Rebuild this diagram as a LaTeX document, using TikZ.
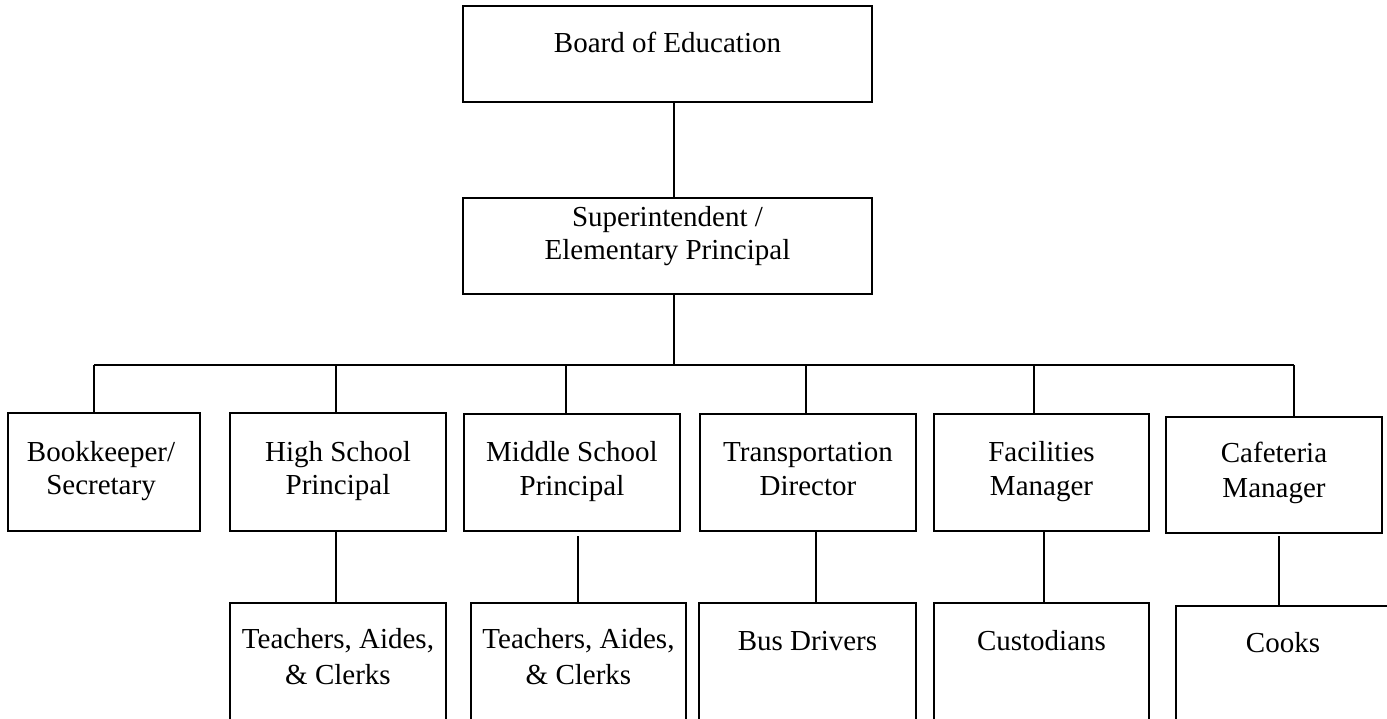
\documentclass[tikz,border=0pt]{standalone}
\usepackage{fontspec}
\setmainfont{Liberation Serif}
\begin{document}
\begin{tikzpicture}[x=1pt,y=-1pt,
  box/.style={draw=black,line width=1.3pt,rectangle,inner sep=0pt,minimum width=#1},
  lbl/.style={anchor=base,align=center,inner sep=0pt,font=\fontsize{29}{34}\selectfont},
  conn/.style={draw=black,line width=1.3pt}]
\useasboundingbox (0,0) rectangle (1387,719);
\clip (0,0) rectangle (1387,719);
% top level boxes
\node[box=409pt,minimum height=96pt] (board) at (667.5,54) {};
\node[box=409pt,minimum height=96pt] (super) at (667.5,246) {};
% second row
\node[box=192pt,minimum height=118pt] (book) at (104,472) {};
\node[box=216pt,minimum height=118pt] (high) at (338,472) {};
\node[box=216pt,minimum height=117pt] (middle) at (572,472.5) {};
\node[box=216pt,minimum height=117pt] (trans) at (808,472.5) {};
\node[box=215pt,minimum height=117pt] (fac) at (1041.5,472.5) {};
\node[box=216pt,minimum height=116pt] (caf) at (1274,475) {};
% third row
\node[box=216pt,minimum height=157pt] (teachA) at (338,681.5) {};
\node[box=215pt,minimum height=157pt] (teachB) at (578.5,681.5) {};
\node[box=217pt,minimum height=157pt] (busd) at (807.5,681.5) {};
\node[box=215pt,minimum height=157pt] (cust) at (1041.5,681.5) {};
\node[box=214pt,minimum height=154pt] (cooks) at (1283,683) {};
% labels (base anchor = baseline of the last line)
\node[lbl] (tboard) at (667.5,53) {Board of Education};
\node[lbl,font=\fontsize{29}{33}\selectfont] (tsuper) at (667.5,260) {Superintendent /\\Elementary Principal};
\node[lbl,font=\fontsize{29}{33}\selectfont] (tbook) at (101,494) {Bookkeeper/\\Secretary};
\node[lbl,font=\fontsize{29}{33}\selectfont] (thigh) at (338,494) {High School\\Principal};
\node[lbl] (tmiddle) at (572,495) {Middle School\\Principal};
\node[lbl] (ttrans) at (808,495) {Transportation\\Director};
\node[lbl] (tfac) at (1041.5,495) {Facilities\\Manager};
\node[lbl,font=\fontsize{29}{35}\selectfont] (tcaf) at (1274,497) {Cafeteria\\Manager};
\node[lbl,font=\fontsize{29}{36}\selectfont] (tteachA) at (338,684) {Teachers, Aides,\\\& Clerks};
\node[lbl,font=\fontsize{29}{36}\selectfont] (tteachB) at (578.5,684) {Teachers, Aides,\\\& Clerks};
\node[lbl] (tbusd) at (807.5,650) {Bus Drivers};
\node[lbl] (tcust) at (1041.5,650) {Custodians};
\node[lbl] (tcooks) at (1283,652) {Cooks};
% connector coordinates
\coordinate (top) at (674,0);
\coordinate (busy) at (0,365);
\coordinate (dA) at (94,365);
\coordinate (dB) at (336,365);
\coordinate (dC) at (566,365);
\coordinate (dD) at (806,365);
\coordinate (dE) at (1034,365);
\coordinate (dF) at (1294,365);
\coordinate (eA) at (336,0);
\coordinate (eB) at (578,536);
\coordinate (eC) at (816,0);
\coordinate (eD) at (1044,0);
\coordinate (eF) at (1279,536);
% connectors
\draw[conn] (top |- board.south) -- (top |- super.north);
\draw[conn] (top |- super.south) -- (top |- busy);
\draw[conn] (dA) -- (dF);
\draw[conn] (dA) -- (dA |- book.north);
\draw[conn] (dB) -- (dB |- high.north);
\draw[conn] (dC) -- (dC |- middle.north);
\draw[conn] (dD) -- (dD |- trans.north);
\draw[conn] (dE) -- (dE |- fac.north);
\draw[conn] (dF) -- (dF |- caf.north);
\draw[conn] (eA |- high.south) -- (eA |- teachA.north);
\draw[conn] (eB) -- (eB |- teachB.north);
\draw[conn] (eC |- trans.south) -- (eC |- busd.north);
\draw[conn] (eD |- fac.south) -- (eD |- cust.north);
\draw[conn] (eF) -- (eF |- cooks.north);
\end{tikzpicture}
\end{document}
